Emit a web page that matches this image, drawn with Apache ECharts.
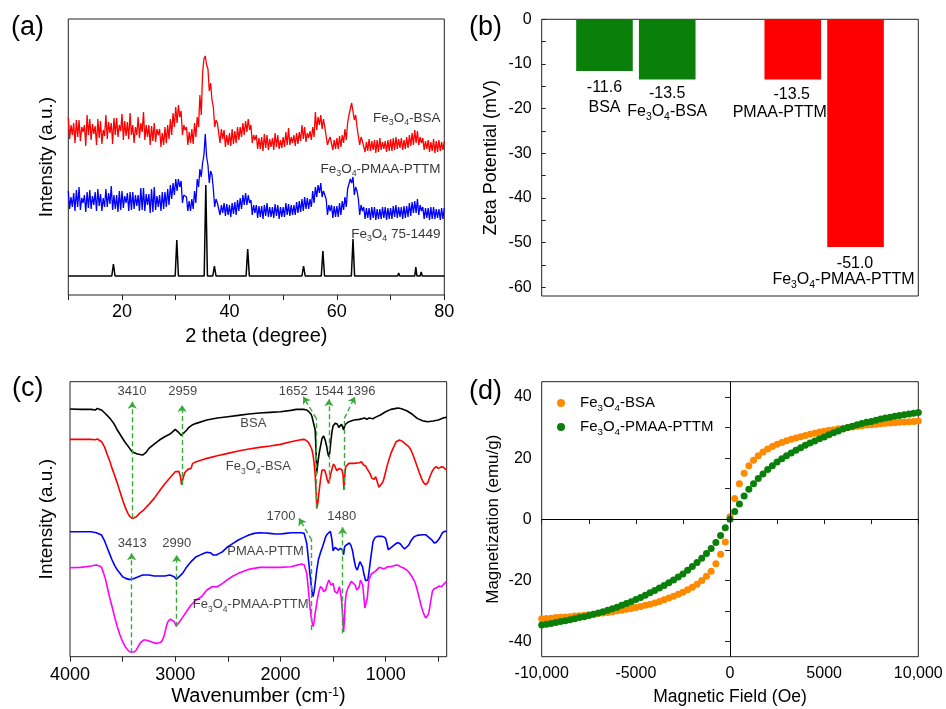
<!DOCTYPE html>
<html><head><meta charset="utf-8">
<script src="https://cdn.jsdelivr.net/npm/echarts@6/dist/echarts.min.js"></script>
<style>html,body{margin:0;padding:0;background:#fff}#c{width:946px;height:709px}</style>
</head><body><div id="c"></div>
<script>
const FONT = '"Liberation Sans", Arial, Helvetica, sans-serif';

// ---------------- (a) XRD ----------------
const xrdStart = 10, xrdStep = 0.25;   // 2-theta sampling of the measured patterns
const xrdFe3O4BSA = [
  178,156,170,160, 172,152,175,158, 175,154,168,163, 170,149,180,160, 176,155,171,161,
  169,150,176,157, 174,151,165,159, 180,156,173,162, 172,151,177,160, 177,158,170,164,
  181,155,174,159, 173,156,182,160, 170,152,168,160, 178,157,172,163, 183,155,170,158,
  170,150,169,154, 172,153,166,160, 166,148,162,150, 168,152,170,156, 176,160,182,168,
  188,172,190,178, 184,160,170,165, 168,150,163,152, 166,151,172,158, 178,168,200,180,
  222,236,239,230, 226,204,212,195, 188,168,175,172, 170,152,166,156, 165,148,160,150,
  162,149,166,151, 164,152,168,155, 168,158,172,160, 174,163,176,165, 170,152,160,155,
  160,146,157,146, 158,144,161,147, 160,145,156,148, 157,145,162,148, 160,146,155,147,
  158,148,163,150, 167,150,158,152, 160,149,162,151, 163,154,170,156, 168,153,162,157,
  164,155,168,158, 183,165,178,170, 180,166,176,168, 170,150,155,158, 158,145,155,146,
  157,146,159,148, 160,152,166,155, 172,180,186,192, 192,175,180,168, 166,150,158,154,
  155,143,153,144, 156,144,154,145, 155,142,155,143, 157,145,153,146, 154,143,155,144,
  156,144,157,145, 158,146,156,147, 157,145,155,146, 158,147,160,149, 162,150,165,152,
  164,150,158,152, 157,145,154,146, 155,143,153,144, 156,142,154,143, 155,144,153,145,
  154];
const xrdFe3O4PMAA = [
  104,86,98,88, 102,84,105,88, 108,85,97,92, 100,83,103,87, 105,86,99,90,
  103,84,106,89, 101,84,97,88, 106,88,102,91, 109,85,100,86, 100,83,104,85,
  104,87,99,92, 102,84,103,85, 103,86,100,89, 100,84,107,85, 107,84,101,90,
  101,82,106,83, 108,85,99,88, 100,84,103,86, 103,88,106,90, 110,96,112,100,
  116,104,116,108, 114,92,100,98, 98,84,94,84, 96,86,104,92, 116,108,126,118,
  132,140,161,138, 130,112,124,120, 106,88,96,92, 94,80,90,82, 92,79,91,80,
  90,78,92,81, 93,80,95,84, 97,86,100,90, 102,90,100,92, 95,80,90,82,
  90,77,89,78, 89,76,90,79, 92,78,88,78, 88,77,91,79, 90,76,88,78,
  88,78,92,80, 91,79,90,80, 90,80,93,82, 94,83,96,84, 98,86,97,86,
  96,88,104,92, 108,98,110,102, 112,98,104,102, 96,80,90,84, 90,77,89,78,
  89,78,92,80, 94,85,98,88, 106,108,116,112, 118,100,108,104, 96,80,90,84,
  88,76,87,77, 87,75,88,77, 88,75,86,76, 86,76,88,77, 88,75,87,76,
  87,76,89,78, 90,77,88,78, 88,76,89,77, 89,78,92,79, 93,82,94,82,
  96,80,90,84, 88,76,87,77, 87,75,88,76, 88,76,86,77, 86,75,87,76,
  87];
const xrdReference = [[10,19],[18.1,19],[18.4,31],[18.7,19],[29.9,19],[30.2,55],[30.5,19],[35.3,19],[35.6,110],[35.9,19],
  [36.9,19],[37.2,29],[37.5,19],[43.1,19],[43.4,46],[43.7,19],[47.2,19],[47.4,21],[47.6,19],[53.5,19],[53.8,29],[54.1,19],
  [57.1,19],[57.4,44],[57.7,19],[62.7,19],[63.0,56],[63.3,19],[66.3,19],[66.5,20],[66.7,19],[71.3,19],[71.5,22],[71.7,19],
  [74.5,19],[74.7,28],[74.9,19],[75.5,19],[75.7,23],[75.9,19],[79.6,19],[79.8,21],[80,19]];
const xrdLabels = [[79.3,176,'Fe_3O_4-BSA'],[79.3,125,'Fe_3O_4-PMAA-PTTM'],[79.3,60,'Fe_3O_4 75-1449']];

// ---------------- (b) Zeta potential ----------------
const zetaNames = ['BSA','Fe_3O_4-BSA','PMAA-PTTM','Fe_3O_4-PMAA-PTTM'];
const zetaValues = [-11.6,-13.5,-13.5,-51.0];

// ---------------- (c) FTIR ----------------
const ftirBSA = [[4000,743],[3900,742],[3800,742],[3760,740],[3740,745],[3720,742],[3700,740],[3660,728],[3620,715],[3580,698],[3550,680],[3510,660],[3480,645],[3440,628],[3410,615],[3360,608],[3310,605],[3280,612],[3250,625],[3200,638],[3150,650],[3100,660],[3050,668],[3020,676],[3000,682],[2985,678],[2965,672],[2945,664],[2930,668],[2910,674],[2890,680],[2870,688],[2840,695],[2800,700],[2700,710],[2600,716],[2500,720],[2400,724],[2300,728],[2200,731],[2100,733],[2000,735],[1900,739],[1850,742],[1780,742],[1750,740],[1730,735],[1710,728],[1700,720],[1685,700],[1670,680],[1662,620],[1656,550],[1645,580],[1632,610],[1620,630],[1605,655],[1590,662],[1575,650],[1560,630],[1550,610],[1540,600],[1530,615],[1520,650],[1510,675],[1500,692],[1480,700],[1460,698],[1445,688],[1430,692],[1420,697],[1410,690],[1400,680],[1392,690],[1380,698],[1350,705],[1300,710],[1250,712],[1200,716],[1180,712],[1160,716],[1150,715],[1120,714],[1100,718],[1050,725],[1000,735],[950,742],[900,745],[880,746],[850,744],[800,738],[750,728],[700,715],[650,708],[620,706],[600,705],[550,707],[500,710],[470,714],[450,717],[420,718]];
const ftirFe3O4BSA = [[4000,652],[3900,652],[3800,652],[3760,651],[3740,653],[3700,645],[3670,628],[3650,610],[3620,585],[3600,565],[3575,543],[3550,520],[3525,495],[3500,470],[3475,448],[3450,430],[3430,420],[3410,415],[3390,417],[3370,420],[3340,430],[3300,440],[3250,457],[3200,475],[3150,497],[3100,518],[3050,537],[3000,555],[2985,560],[2965,556],[2950,540],[2940,516],[2930,530],[2910,552],[2880,562],[2850,565],[2835,580],[2800,585],[2750,590],[2700,595],[2600,603],[2500,610],[2400,617],[2300,623],[2200,628],[2100,632],[2000,637],[1900,645],[1820,650],[1780,652],[1760,650],[1740,645],[1720,635],[1700,620],[1690,605],[1680,580],[1670,545],[1662,500],[1654,445],[1645,460],[1635,490],[1620,530],[1605,560],[1595,565],[1580,560],[1565,545],[1555,530],[1542,520],[1535,530],[1520,550],[1505,570],[1495,578],[1480,570],[1465,558],[1455,555],[1440,565],[1425,562],[1415,560],[1405,545],[1396,500],[1388,545],[1380,570],[1350,580],[1300,580],[1250,582],[1230,585],[1210,575],[1190,572],[1170,560],[1150,550],[1130,535],[1110,532],[1095,540],[1080,525],[1065,508],[1050,510],[1035,520],[1020,530],[1000,555],[980,580],[960,600],[950,610],[930,625],[900,645],[870,650],[840,646],[820,640],[780,630],[760,620],[740,605],[720,588],[700,570],[680,552],[660,535],[640,522],[620,516],[600,522],[580,540],[560,555],[540,565],[520,570],[500,565],[480,568],[460,570],[440,565],[420,560]];
const ftirPMAA = [[4000,375],[3900,375],[3800,375],[3750,372],[3700,365],[3675,350],[3650,330],[3625,310],[3600,290],[3575,273],[3550,260],[3525,250],[3500,240],[3470,235],[3440,232],[3413,232],[3380,236],[3350,240],[3320,244],[3300,245],[3250,245],[3200,242],[3150,242],[3100,242],[3050,245],[3010,240],[2990,232],[2970,238],[2950,244],[2930,250],[2900,265],[2870,277],[2850,285],[2800,300],[2750,307],[2700,313],[2685,317],[2665,312],[2640,305],[2610,305],[2580,310],[2550,315],[2500,330],[2450,340],[2400,350],[2350,358],[2300,365],[2250,370],[2200,372],[2150,371],[2100,370],[2050,368],[2000,368],[1950,370],[1900,372],[1850,372],[1800,372],[1775,370],[1760,365],[1750,340],[1740,310],[1730,280],[1720,250],[1710,222],[1700,195],[1690,180],[1680,195],[1670,220],[1655,260],[1640,290],[1620,312],[1600,330],[1585,345],[1570,360],[1555,368],[1540,372],[1525,376],[1510,350],[1500,318],[1490,322],[1480,328],[1465,328],[1450,320],[1440,318],[1430,325],[1420,330],[1410,320],[1400,306],[1390,330],[1370,336],[1345,341],[1330,334],[1315,318],[1300,290],[1285,268],[1270,260],[1260,270],[1245,285],[1232,291],[1220,270],[1205,245],[1190,228],[1182,224],[1170,230],[1160,250],[1140,300],[1120,346],[1100,358],[1080,361],[1060,361],[1040,361],[1020,360],[1000,355],[985,335],[975,321],[955,326],[940,328],[920,335],[900,340],[880,342],[860,338],[840,330],[820,323],[805,321],[780,335],[760,348],[730,360],[700,364],[650,366],[620,366],[590,358],[560,350],[540,341],[520,343],[500,350],[480,360],[460,372],[440,376],[420,376]];
const ftirFe3O4PMAA = [[4000,267],[3900,268],[3850,270],[3800,272],[3750,275],[3720,272],[3700,268],[3680,250],[3665,235],[3650,215],[3625,180],[3600,150],[3575,118],[3550,90],[3525,65],[3500,45],[3475,30],[3450,20],[3430,14],[3413,10],[3390,14],[3370,20],[3350,32],[3330,42],[3300,50],[3280,50],[3250,47],[3230,45],[3200,42],[3180,40],[3150,42],[3130,45],[3110,58],[3100,70],[3085,90],[3070,105],[3050,112],[3030,110],[3010,105],[2990,92],[2975,98],[2960,105],[2930,118],[2900,132],[2850,155],[2800,170],[2750,180],[2700,200],[2650,210],[2600,210],[2550,220],[2500,232],[2450,242],[2400,250],[2350,256],[2300,262],[2200,268],[2100,268],[2000,268],[1900,270],[1850,274],[1800,278],[1775,276],[1760,270],[1750,250],[1740,220],[1730,185],[1720,150],[1710,125],[1700,105],[1690,90],[1680,105],[1670,130],[1660,150],[1650,170],[1635,195],[1620,210],[1610,208],[1600,205],[1590,195],[1580,190],[1570,200],[1560,212],[1550,222],[1540,230],[1532,236],[1520,215],[1510,212],[1500,220],[1484,196],[1470,200],[1460,190],[1450,200],[1440,210],[1430,195],[1420,170],[1410,130],[1400,74],[1392,110],[1385,160],[1375,190],[1360,205],[1350,210],[1327,226],[1310,222],[1290,215],[1275,200],[1264,196],[1250,210],[1240,230],[1232,236],[1218,215],[1205,170],[1198,146],[1185,150],[1175,175],[1160,230],[1140,246],[1120,252],[1100,256],[1080,262],[1060,268],[1040,266],[1020,264],[1000,266],[980,270],[960,270],[930,272],[900,275],[880,274],[860,270],[830,266],[800,260],[780,254],[750,240],[720,222],[700,200],[680,175],[660,150],[640,130],[620,116],[600,124],[590,132],[575,160],[556,196],[540,204],[520,206],[503,206],[490,212],[470,210],[460,206],[440,220],[420,226]];
const ftirLabels = [[3411,794,'3410'],[2929,793,'2959'],[1878,794,'1652'],[1536,794,'1544'],[1235,794,'1396'],
  [1995,420,'1700'],[1418,420,'1480'],[3408,337,'3413'],[2986,337,'2990'],
  [2258,698,'BSA'],[2210,570,'Fe_3O_4-BSA'],[2141,313,'PMAA-PTTM'],[2283,155,'Fe_3O_4-PMAA-PTTM']];
const ftirArrows = [
  [[3408,415],[3408,765]],
  [[2935,515],[2935,755]],
  [[1660,445],[1660,715],[1783,780]],
  [[1539,520],[1539,772]],
  [[1393,500],[1393,715],[1292,780]],
  [[1703,80],[1703,350],[1824,415]],
  [[1409,70],[1409,388]],
  [[3414,10],[3414,310]],
  [[2986,90],[2986,305]]
];

// ---------------- (d) Magnetization ----------------
const fieldOe = [-10000,-9750,-9500,-9250,-9000,-8750,-8500,-8250,-8000,-7750,-7500,-7250,-7000,-6750,-6500,-6250,-6000,-5750,-5500,-5250,
  -5000,-4750,-4500,-4250,-4000,-3750,-3500,-3250,-3000,-2750,-2500,-2250,-2000,-1750,-1500,-1250,-1000,-750,-500,-250,
  0,250,500,750,1000,1250,1500,1750,2000,2250,2500,2750,3000,3250,3500,3750,4000,4250,4500,4750,
  5000,5250,5500,5750,6000,6250,6500,6750,7000,7250,7500,7750,8000,8250,8500,8750,9000,9250,9500,9750,10000];
const magFe3O4BSA = [-32.6,-32.5,-32.4,-32.2,-32.1,-32.0,-31.9,-31.7,-31.6,-31.4,-31.3,-31.1,-30.9,-30.7,-30.5,-30.3,-30.0,-29.8,-29.5,-29.2,
  -28.9,-28.6,-28.2,-27.8,-27.4,-26.9,-26.4,-25.8,-25.2,-24.6,-23.9,-23.1,-22.3,-21.3,-20.1,-18.7,-17.0,-14.6,-11.5,-7.5,
  0.8,6.8,11.6,15.0,17.5,19.3,20.8,22.0,23.0,23.8,24.5,25.1,25.7,26.2,26.6,27.0,27.4,27.8,28.1,28.5,
  28.8,29.1,29.3,29.6,29.8,30.0,30.2,30.4,30.6,30.8,30.9,31.1,31.2,31.4,31.5,31.6,31.7,31.8,31.9,32.0,32.1];
const magFe3O4PMAA = [-34.6,-34.4,-34.1,-33.8,-33.5,-33.2,-32.9,-32.6,-32.2,-31.9,-31.5,-31.1,-30.7,-30.3,-29.8,-29.3,-28.8,-28.2,-27.6,-27.0,
  -26.3,-25.6,-24.9,-24.1,-23.3,-22.5,-21.7,-20.8,-19.9,-18.9,-17.9,-16.7,-15.5,-14.2,-12.8,-11.2,-9.6,-7.6,-5.3,-2.8,
  0.0,2.5,5.0,7.6,9.8,11.6,13.3,14.8,16.3,17.5,18.7,19.8,20.8,21.7,22.6,23.4,24.2,24.9,25.6,26.3,
  26.9,27.6,28.3,28.9,29.5,30.0,30.4,30.9,31.3,31.7,32.0,32.4,32.8,33.1,33.4,33.7,33.9,34.2,34.4,34.7,34.9];

// ---------------- helpers ----------------
function toRich(s) {
  let out = '', re = /_(\d)/g, last = 0, m;
  while ((m = re.exec(s))) {
    if (m.index > last) out += '{m|' + s.slice(last, m.index) + '}';
    out += '{s|' + m[1] + '}';
    last = re.lastIndex;
  }
  if (last < s.length) out += '{m|' + s.slice(last) + '}';
  return out;
}
function richStyles(fs, L, color) {
  const sfs = Math.round(fs * 0.65 * 10) / 10;
  return {
    m: {fontSize: fs, lineHeight: L, verticalAlign: 'top', fontFamily: FONT, color: color || '#000'},
    s: {fontSize: sfs, lineHeight: sfs, verticalAlign: 'top', fontFamily: FONT, color: color || '#000',
        padding: [Math.round(L / 2 + 0.3 * fs - sfs / 2), 0, 0, 0]}
  };
}
const AX = '#222';
const tickStyle = {lineStyle: {color: AX, width: 1}};
const gridBox = {show: true, borderColor: AX, borderWidth: 1, backgroundColor: 'transparent'};

// (b) category slots: empty slot before, between and after the groups
const zetaSlots = [' ', zetaNames[0], zetaNames[1], '  ', zetaNames[2], zetaNames[3], '   '];
const zetaSlotValues = [null, zetaValues[0], zetaValues[1], null, zetaValues[2], zetaValues[3], null];
const zetaLabelCfg = [
  null,
  {L: 24, d: 5, off: [0, 0], vp: 0},
  {L: 19, d: 5, off: [0, 0], vp: 0},
  null,
  {L: 20, d: 5, off: [-13, 0], vp: 24},
  {L: 17, d: 8, off: [-12, 0], vp: 23},
  null
];
const zetaColor = ['', '#0a800a', '#0a800a', '', '#ff0000', '#ff0000', ''];
const barData = zetaSlotValues.map((v, i) => {
  if (v === null) return null;
  const c = zetaLabelCfg[i];
  const st = richStyles(16, c.L);
  st.v = {fontSize: 16, lineHeight: c.L, fontFamily: FONT, color: '#000', padding: [0, 0, 0, c.vp]};
  return {
    value: v,
    itemStyle: {color: zetaColor[i]},
    label: {
      show: true, position: 'bottom', distance: c.d, offset: c.off, align: 'center',
      formatter: '{v|' + v.toFixed(1) + '}\n' + toRich(zetaSlots[i]),
      rich: st
    }
  };
});

// (c) arrows -> markLine segments
const arrowSegs = [];
ftirArrows.forEach(path => {
  for (let k = 0; k < path.length - 1; k++) {
    const last = k === path.length - 2;
    arrowSegs.push([{coord: path[k], symbol: 'none'}, {coord: path[k + 1], symbol: last ? 'arrow' : 'none'}]);
  }
});

const chart = echarts.init(document.getElementById('c'), null, {renderer: 'canvas'});
const option = {
  animation: false,
  textStyle: {fontFamily: FONT},
  graphic: [
    {type: 'text', left: 11, top: 14, style: {text: '(a)', font: '27px ' + FONT, fill: '#000'}},
    {type: 'text', left: 469, top: 14, style: {text: '(b)', font: '27px ' + FONT, fill: '#000'}},
    {type: 'text', left: 12, top: 375, style: {text: '(c)', font: '27px ' + FONT, fill: '#000'}},
    {type: 'text', left: 469, top: 378, style: {text: '(d)', font: '27px ' + FONT, fill: '#000'}}
  ],
  legend: {
    data: ['Fe_3O_4-BSA', 'Fe_3O_4-PMAA-PTTM'],
    left: 552, top: 390, orient: 'vertical', icon: 'circle',
    itemWidth: 28, itemHeight: 8, itemGap: 6,
    formatter: n => toRich(n),
    textStyle: {fontSize: 15, fontFamily: FONT, color: '#000', rich: richStyles(15, 16)}
  },
  grid: [
    Object.assign({left: 68.3, top: 19, width: 376, height: 276}, gridBox),
    Object.assign({left: 541.7, top: 19.3, width: 376.6, height: 276.7}, gridBox),
    {show: false, left: 541.7, top: 19.3, width: 376.6, height: 267.8},
    Object.assign({left: 70, top: 381.7, width: 376.7, height: 275}, gridBox),
    {show: false, left: 70, top: 381.7, width: 368.3, height: 275},
    Object.assign({left: 541.7, top: 381.7, width: 376.6, height: 275}, gridBox),
    {show: false, left: 541.7, top: 397, width: 376.6, height: 244.4}
  ],
  xAxis: [
    {gridIndex: 0, type: 'value', min: 10, max: 80, interval: 10,
     axisLine: {show: false}, splitLine: {show: false}, axisTick: Object.assign({length: 5}, tickStyle),
     axisLabel: {fontSize: 18, color: '#000', margin: 8, showMinLabel: true, showMaxLabel: true,
                 formatter: v => (v % 20 === 0 ? String(v) : '')},
     name: '2 theta (degree)', nameLocation: 'middle', nameGap: 31,
     nameTextStyle: {fontSize: 20, color: '#000', fontFamily: FONT}},
    {gridIndex: 1, type: 'category', data: zetaSlots, boundaryGap: false, show: false},
    {gridIndex: 2, type: 'value', min: 0, max: 1, show: false},
    {gridIndex: 3, type: 'value', min: 420, max: 4000, inverse: true,
     axisLine: {show: false}, axisTick: {show: false}, axisLabel: {show: false}, splitLine: {show: false},
     name: '{m|Wavenumber (cm}{p|-1}{m|)}', nameLocation: 'middle', nameGap: 30,
     nameTextStyle: {fontSize: 20, color: '#000', fontFamily: FONT,
       rich: {m: {fontSize: 20, lineHeight: 22, verticalAlign: 'top', fontFamily: FONT, color: '#000'},
              p: {fontSize: 12, lineHeight: 12, verticalAlign: 'top', fontFamily: FONT, color: '#000'}}}},
    {gridIndex: 4, type: 'value', min: 500, max: 4000, interval: 500, inverse: true,
     axisLine: {show: false}, splitLine: {show: false}, axisTick: Object.assign({length: 5}, tickStyle),
     axisLabel: {fontSize: 18, color: '#000', margin: 9, showMinLabel: true, showMaxLabel: true,
                 formatter: v => (v % 1000 === 0 ? String(v) : '')}},
    {gridIndex: 5, type: 'value', min: -10000, max: 10000, interval: 2500,
     axisLine: {show: false}, splitLine: {show: false}, axisTick: Object.assign({length: 5}, tickStyle),
     axisLabel: {fontSize: 16, color: '#000', margin: 9, showMinLabel: true, showMaxLabel: true,
                 formatter: v => (v === -10000 ? '-10,000' : v === 10000 ? '10,000' : (v % 5000 === 0 ? String(v) : ''))},
     name: 'Magnetic Field (Oe)', nameLocation: 'middle', nameGap: 31,
     nameTextStyle: {fontSize: 17.5, color: '#000', fontFamily: FONT}},
    {gridIndex: 6, type: 'value', min: -10000, max: 10000, show: false}
  ],
  yAxis: [
    {gridIndex: 0, type: 'value', min: 0, max: 276,
     axisLine: {show: false}, axisTick: {show: false}, axisLabel: {show: false}, splitLine: {show: false},
     name: 'Intensity (a.u.)', nameLocation: 'middle', nameGap: 12,
     nameTextStyle: {fontSize: 19, color: '#000', fontFamily: FONT}},
    {gridIndex: 1, type: 'value', min: -62, max: 0,
     axisLine: {show: false}, axisTick: {show: false}, axisLabel: {show: false}, splitLine: {show: false},
     name: 'Zeta Potential (mV)', nameLocation: 'middle', nameGap: 42,
     nameTextStyle: {fontSize: 18, color: '#000', fontFamily: FONT}},
    {gridIndex: 2, type: 'value', min: -60, max: 0, interval: 10,
     axisLine: {show: false}, splitLine: {show: false},
     axisTick: Object.assign({inside: true, length: 4}, tickStyle),
     minorTick: {show: true, splitNumber: 2, length: 4, lineStyle: {color: AX}},
     axisLabel: {fontSize: 16, color: '#000', margin: 10}},
    {gridIndex: 3, type: 'value', min: 0, max: 825,
     axisLine: {show: false}, axisTick: {show: false}, axisLabel: {show: false}, splitLine: {show: false},
     name: 'Intensity (a.u.)', nameLocation: 'middle', nameGap: 14,
     nameTextStyle: {fontSize: 19, color: '#000', fontFamily: FONT}},
    {gridIndex: 4, type: 'value', min: 0, max: 825, show: false},
    {gridIndex: 5, type: 'value', min: -45, max: 45,
     axisLine: {show: false}, axisTick: {show: false}, axisLabel: {show: false}, splitLine: {show: false},
     name: 'Magnetization (emu/g)', nameLocation: 'middle', nameGap: 40,
     nameTextStyle: {fontSize: 17, color: '#000', fontFamily: FONT}},
    {gridIndex: 6, type: 'value', min: -40, max: 40, interval: 10,
     axisLine: {show: false}, splitLine: {show: false}, axisTick: Object.assign({length: 5}, tickStyle),
     axisLabel: {fontSize: 16, color: '#000', margin: 10, formatter: v => (v % 20 === 0 ? String(v) : '')}}
  ],
  series: [
    // (a)
    {name: 'xrd-ref', type: 'line', xAxisIndex: 0, yAxisIndex: 0, data: xrdReference, showSymbol: false,
     lineStyle: {color: '#000', width: 1.5}, silent: true},
    {name: 'xrd-pmaa', type: 'line', xAxisIndex: 0, yAxisIndex: 0,
     data: xrdFe3O4PMAA.map((v, i) => [xrdStart + i * xrdStep, v]), showSymbol: false,
     lineStyle: {color: '#0000ff', width: 1.3}, silent: true},
    {name: 'xrd-bsa', type: 'line', xAxisIndex: 0, yAxisIndex: 0,
     data: xrdFe3O4BSA.map((v, i) => [xrdStart + i * xrdStep, v]), showSymbol: false,
     lineStyle: {color: '#ff0000', width: 1.3}, silent: true},
    {name: 'xrd-labels', type: 'scatter', xAxisIndex: 0, yAxisIndex: 0, data: xrdLabels, symbolSize: 0, silent: true,
     label: {show: true, position: 'left', distance: 0, formatter: p => toRich(p.data[2]), rich: richStyles(13.5, 15)}},
    // (b)
    {name: 'zeta', type: 'bar', xAxisIndex: 1, yAxisIndex: 1, data: barData, barWidth: 56.6, silent: true},
    // (c)
    {name: 'ftir-bsa', type: 'line', xAxisIndex: 3, yAxisIndex: 3, data: ftirBSA, showSymbol: false,
     lineStyle: {color: '#000', width: 1.6}, silent: true,
     markLine: {silent: true, symbol: ['none', 'arrow'], symbolSize: 7, label: {show: false},
       lineStyle: {color: '#3aa83a', type: [5, 3], width: 1.4}, emphasis: {disabled: true}, data: arrowSegs}},
    {name: 'ftir-fe3o4-bsa', type: 'line', xAxisIndex: 3, yAxisIndex: 3, data: ftirFe3O4BSA, showSymbol: false,
     lineStyle: {color: '#ff0000', width: 1.6}, silent: true},
    {name: 'ftir-pmaa', type: 'line', xAxisIndex: 3, yAxisIndex: 3, data: ftirPMAA, showSymbol: false,
     lineStyle: {color: '#0000ff', width: 1.6}, silent: true},
    {name: 'ftir-fe3o4-pmaa', type: 'line', xAxisIndex: 3, yAxisIndex: 3, data: ftirFe3O4PMAA, showSymbol: false,
     lineStyle: {color: '#ff00ff', width: 1.6}, silent: true},
    {name: 'ftir-labels', type: 'scatter', xAxisIndex: 3, yAxisIndex: 3, data: ftirLabels, symbolSize: 0, silent: true, z: 5,
     label: {show: true, position: 'inside', formatter: p => toRich(p.data[2]), rich: richStyles(13, 14, '#111')}},
    // (d)
    {name: 'Fe_3O_4-BSA', type: 'scatter', xAxisIndex: 5, yAxisIndex: 5,
     data: fieldOe.map((h, i) => [h, magFe3O4BSA[i]]), symbolSize: 7, itemStyle: {color: '#ff8a00', opacity: 1},
     silent: true,
     markLine: {silent: true, symbol: ['none', 'none'], label: {show: false}, emphasis: {disabled: true},
       lineStyle: {color: '#000', type: 'solid', width: 1}, data: [{xAxis: 0}, {yAxis: 0}]}},
    {name: 'Fe_3O_4-PMAA-PTTM', type: 'scatter', xAxisIndex: 5, yAxisIndex: 5,
     data: fieldOe.map((h, i) => [h, magFe3O4PMAA[i]]), symbolSize: 7, itemStyle: {color: '#0a800a', opacity: 1},
     silent: true}
  ]
};
chart.setOption(option);
</script>
</body></html>
